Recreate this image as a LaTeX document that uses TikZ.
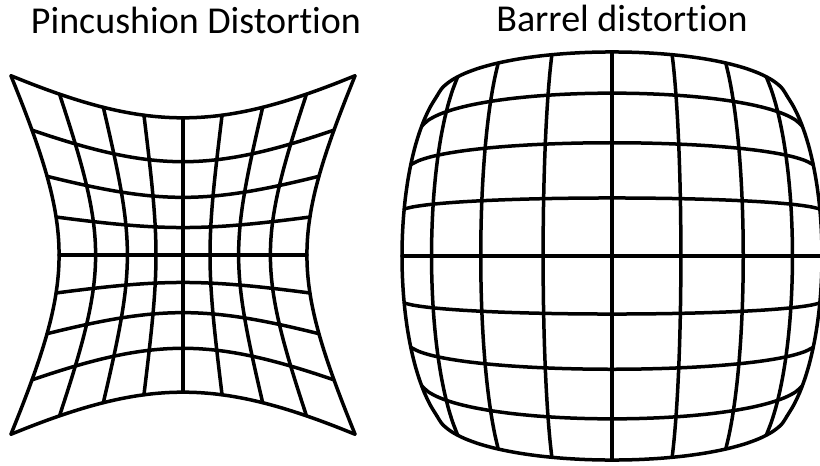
\documentclass[tikz,border=0pt]{standalone}
\usepackage{fontspec}
\setmainfont{Carlito}[Ligatures={NoCommon,NoRequired,NoContextual}]

\begin{document}
\begin{tikzpicture}[
  x=0.5pt, y=-0.5pt,
  gridline/.style={line width=1.75pt, line cap=round, line join=round},
  title/.style={anchor=base, inner sep=0pt, font=\fontsize{19}{23}\selectfont},
  declare function={
    pinx(\u,\v)=183+107*\u*(1+0.158*\u*\u+0.45*\v*\v);
    piny(\u,\v)=255+108*\v*(1+0.27*\v*\v+0.39*\u*\u);
    barx(\u,\v)=612+280*\u*(1-0.25*\u*\u-0.125*\v*\v);
    bary(\u,\v)=256+234*\v*(1-0.128*\v*\v-0.188*\u*\u);
  }
]
\useasboundingbox (0,0) rectangle (820,466);

\node[title] (pintitle) at (196,33) {Pincushion Distortion};
\node[title] (bartitle) at (622,32) {Barrel distortion};

% pincushion grid
\foreach \i in {-4,...,4} {
  \draw[gridline] plot[smooth, variable=\t, domain=-1:1, samples=21] ({pinx(\t,\i/4)},{piny(\t,\i/4)});
  \draw[gridline] plot[smooth, variable=\t, domain=-1:1, samples=21] ({pinx(\i/4,\t)},{piny(\i/4,\t)});
}

% barrel grid
\foreach \i in {-4,...,4} {
  \draw[gridline] plot[smooth, variable=\t, domain=-1:1, samples=21] ({barx(\t,\i/4)},{bary(\t,\i/4)});
  \draw[gridline] plot[smooth, variable=\t, domain=-1:1, samples=21] ({barx(\i/4,\t)},{bary(\i/4,\t)});
}

\end{tikzpicture}
\end{document}
